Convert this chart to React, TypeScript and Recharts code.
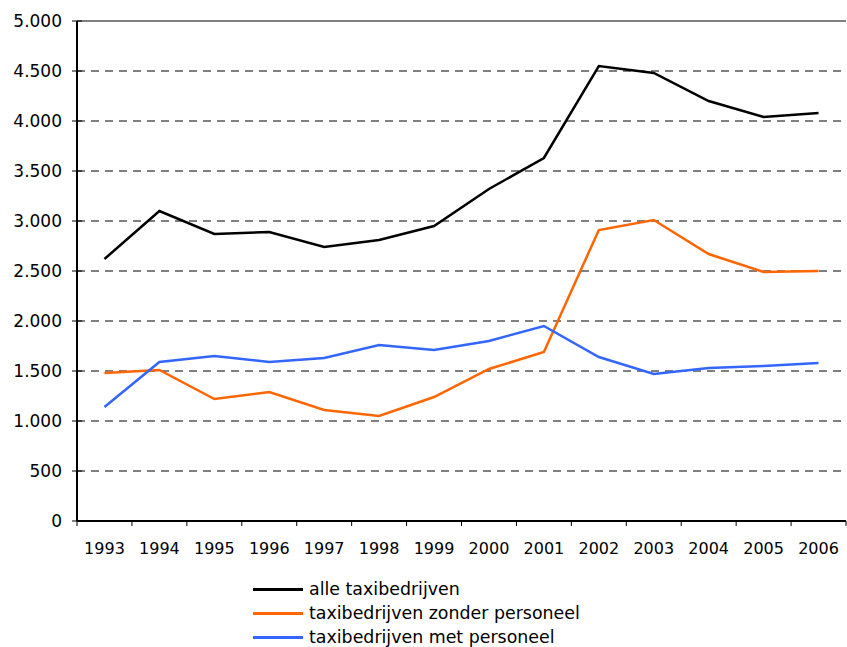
import React from "react";
import {
  LineChart,
  Line,
  XAxis,
  YAxis,
  CartesianGrid,
  Legend,
  ReferenceLine,
} from "recharts";

const years = [
  "1993", "1994", "1995", "1996", "1997", "1998", "1999",
  "2000", "2001", "2002", "2003", "2004", "2005", "2006",
];
const alle = [2620, 3100, 2870, 2890, 2740, 2810, 2950, 3320, 3630, 4550, 4480, 4200, 4040, 4080];
const zonder = [1480, 1510, 1220, 1290, 1110, 1050, 1240, 1520, 1690, 2910, 3010, 2670, 2490, 2500];
const met = [1140, 1590, 1650, 1590, 1630, 1760, 1710, 1800, 1950, 1640, 1470, 1530, 1550, 1580];
const yTicks = [0, 500, 1000, 1500, 2000, 2500, 3000, 3500, 4000, 4500, 5000];

const series = [
  { key: "alle", name: "alle taxibedrijven", color: "#000000" },
  { key: "zonder", name: "taxibedrijven zonder personeel", color: "#ff6600" },
  { key: "met", name: "taxibedrijven met personeel", color: "#3366ff" },
];

const data = years.map((year, i) => ({
  year,
  alle: alle[i],
  zonder: zonder[i],
  met: met[i],
}));

const W = 847;
const H = 647;
const margin = { top: 21, right: 1, left: 0, bottom: 96 };
const Y_W = 77;
const band = (W - margin.left - margin.right - Y_W) / years.length;
const font = "'DejaVu Sans', Verdana, sans-serif";

const fmt = (v: number) =>
  v >= 1000 ? `${Math.floor(v / 1000)}.${String(v % 1000).padStart(3, "0")}` : String(v);

// x ticks sit between the categories, labels in the middle
const YearTick = (props: any) => {
  const { x, y, payload, index } = props;
  const last = index === years.length - 1;
  return (
    <g>
      <line x1={x - band / 2} x2={x - band / 2} y1={y - 5} y2={y} stroke="#000" />
      {last && <line x1={x + band / 2} x2={x + band / 2} y1={y - 5} y2={y} stroke="#000" />}
      <text x={x} y={y + 28} textAnchor="middle" fill="#000" fontSize={16} fontFamily={font}>
        {payload.value}
      </text>
    </g>
  );
};

// y ticks cross the axis line
const ValueTick = (props: any) => {
  const { x, y, payload } = props;
  const axisX = x + 15;
  return (
    <g>
      <line x1={axisX - 5} x2={axisX + 5} y1={y} y2={y} stroke="#000" />
      <text x={x} y={y} dy="0.36em" textAnchor="end" fill="#000" fontSize={17} fontFamily={font}>
        {fmt(payload.value)}
      </text>
    </g>
  );
};

const LegendBox = () => (
  <div style={{ fontFamily: font, fontSize: 17.4, color: "#000" }}>
    {series.map((s) => (
      <div key={s.key} style={{ display: "flex", alignItems: "center", height: 24 }}>
        <div style={{ width: 50, height: 3, background: s.color, marginRight: 6 }} />
        <span>{s.name}</span>
      </div>
    ))}
  </div>
);

export default function App() {
  return (
    <div style={{ position: "absolute", left: 0, top: 0, background: "#fff" }}>
      <LineChart width={W} height={H} data={data} margin={margin}>
        <CartesianGrid
          vertical={false}
          stroke="#000"
          strokeDasharray="8 6"
        />
        <ReferenceLine y={5000} stroke="#808080" strokeWidth={2} />
        <XAxis
          dataKey="year"
          height={30}
          padding={{ left: band / 2, right: band / 2 }}
          tickLine={false}
          tickSize={5}
          tickMargin={0}
          axisLine={{ stroke: "#000", strokeWidth: 2 }}
          tick={<YearTick />}
          interval={0}
        />
        <YAxis
          width={Y_W}
          domain={[0, 5000]}
          ticks={yTicks}
          tickSize={5}
          tickMargin={10}
          tickLine={false}
          axisLine={{ stroke: "#000", strokeWidth: 2 }}
          tick={<ValueTick />}
          interval={0}
        />
        <Legend
          layout="vertical"
          align="center"
          verticalAlign="middle"
          content={<LegendBox />}
          wrapperStyle={{ top: 577, left: 253, width: "auto" }}
        />
        {series.map((s) => (
          <Line
            key={s.key}
            dataKey={s.key}
            name={s.name}
            stroke={s.color}
            strokeWidth={2.5}
            dot={false}
            type="linear"
            isAnimationActive={false}
          />
        ))}
      </LineChart>
    </div>
  );
}
